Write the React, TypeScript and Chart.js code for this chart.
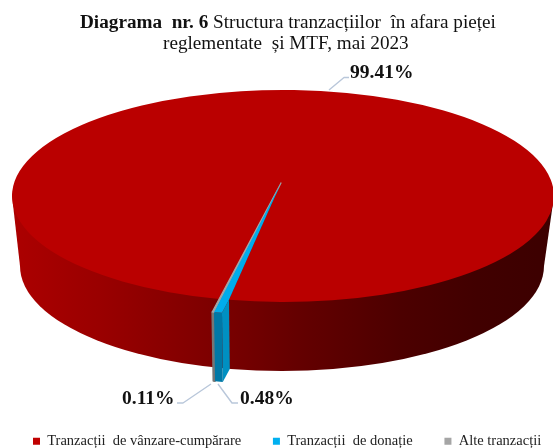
import React, { useEffect, useRef } from "react";
import { Chart, registerables } from "chart.js";

Chart.register(...registerables);

const categories = ["Tranzacții  de vânzare-cumpărare", "Tranzacții  de donație", "Alte tranzacții"];
const shares = [99.41, 0.48, 0.11];
const sliceColors = ["#C00000", "#00B0F0", "#A5A5A5"];
const titleBold = "Diagrama  nr. 6";
const titleRest = " Structura tranzacțiilor  în afara pieței";
const titleLine2 = "reglementate  și MTF, mai 2023";

const SERIF = '"Liberation Serif", "Times New Roman", serif';
const TOP = { cx: 283, cy: 196, rx: 271, ry: 106 };
const BOTTOM = { cx: 282, cy: 266, rx: 262, ry: 105 };
const APEX = { x: 281, y: 183 };
const PULL = { x: -7, y: 13 };
const LEADER = "#B9C7DA";
const LEGEND_GAP = "       ";

type Pt = { x: number; y: number };
type Ell = typeof TOP;
const at = (e: Ell, t: number, off: Pt = { x: 0, y: 0 }): Pt => ({
  x: e.cx + e.rx * Math.cos(t) + off.x,
  y: e.cy + e.ry * Math.sin(t) + off.y,
});
const poly = (ctx: CanvasRenderingContext2D, pts: Pt[], fill: string | CanvasGradient, edge = 0) => {
  ctx.beginPath();
  pts.forEach((p, i) => (i ? ctx.lineTo(p.x, p.y) : ctx.moveTo(p.x, p.y)));
  ctx.closePath();
  ctx.fillStyle = fill;
  ctx.fill();
  if (edge) {
    ctx.strokeStyle = fill as string;
    ctx.lineWidth = edge;
    ctx.lineJoin = "round";
    ctx.stroke();
  }
};

const pie3d = {
  id: "pie3d",
  beforeDatasetsDraw(chart: any) {
    const ctx: CanvasRenderingContext2D = chart.ctx;
    const arcs = chart.getDatasetMeta(0).data;
    const [main, blue, grey] = arcs;
    ctx.save();

    // side wall of the disc
    const g = ctx.createLinearGradient(12, 0, 553, 0);
    [[0, "#AC0000"], [0.16, "#9A0000"], [0.35, "#800000"], [0.53, "#640000"], [0.72, "#4C0000"], [0.86, "#410000"], [1, "#3C0000"]].forEach(
      ([o, c]) => g.addColorStop(o as number, c as string)
    );
    ctx.beginPath();
    ctx.ellipse(BOTTOM.cx, BOTTOM.cy, BOTTOM.rx, BOTTOM.ry, 0, 0, Math.PI * 2);
    ctx.fillStyle = g;
    ctx.fill();
    poly(ctx, [
      { x: TOP.cx - TOP.rx, y: TOP.cy },
      { x: BOTTOM.cx - BOTTOM.rx, y: BOTTOM.cy },
      { x: BOTTOM.cx + BOTTOM.rx, y: BOTTOM.cy },
      { x: TOP.cx + TOP.rx, y: TOP.cy },
    ], g);

    // top of the large slice
    ctx.beginPath();
    ctx.moveTo(APEX.x, APEX.y);
    ctx.ellipse(TOP.cx, TOP.cy, TOP.rx, TOP.ry, 0, main.startAngle, main.endAngle);
    ctx.closePath();
    ctx.fillStyle = "#BA0000";
    ctx.fill();

    const t1 = blue.startAngle;
    const t2 = blue.endAngle;
    const t3 = grey.endAngle;

    // pulled-out slices: grey first (its edge widens to the left), then blue over it
    poly(ctx, [at(TOP, t2, PULL), at(TOP, t3, PULL), at(BOTTOM, t3, PULL), at(BOTTOM, t2, PULL)], "#767676", 1.6);
    poly(ctx, [APEX, at(TOP, t2, PULL), at(TOP, t3, PULL)], "#A5A5A5", 1.2);
    poly(ctx, [at(TOP, t1, PULL), at(TOP, t1), at(BOTTOM, t1), at(BOTTOM, t1, PULL)], "#0090C2");
    poly(ctx, [at(TOP, t1, PULL), at(TOP, t2, PULL), at(BOTTOM, t2, PULL), at(BOTTOM, t1, PULL)], "#0078A6");
    poly(ctx, [APEX, at(TOP, t1), at(TOP, t1, PULL), at(TOP, t2, PULL)], "#00ACEC");

    // leader lines
    ctx.strokeStyle = LEADER;
    ctx.lineWidth = 1.4;
    const leaders: Pt[][] = [
      [{ x: 329, y: 90 }, { x: 344, y: 77.5 }, { x: 349, y: 77.5 }],
      [{ x: 211, y: 384 }, { x: 183, y: 403 }, { x: 177, y: 403 }],
      [{ x: 218, y: 384 }, { x: 232, y: 403 }, { x: 238, y: 403 }],
    ];
    leaders.forEach((l) => {
      ctx.beginPath();
      l.forEach((p, i) => (i ? ctx.lineTo(p.x, p.y) : ctx.moveTo(p.x, p.y)));
      ctx.stroke();
    });

    // value labels
    ctx.fillStyle = "#111";
    ctx.font = `bold 19.5px ${SERIF}`;
    ctx.textBaseline = "alphabetic";
    ctx.textAlign = "left";
    ctx.fillText(`${shares[0].toFixed(2)}%`, 350, 78);
    ctx.fillText(`${shares[2].toFixed(2)}%`, 122, 404);
    ctx.fillText(`${shares[1].toFixed(2)}%`, 240, 404);

    // title
    ctx.font = `bold 19.2px ${SERIF}`;
    const w1 = ctx.measureText(titleBold).width;
    ctx.fillText(titleBold, 80, 28);
    ctx.font = `19.2px ${SERIF}`;
    ctx.fillText(titleRest, 80 + w1, 28);
    ctx.fillText(titleLine2, 163, 49);

    ctx.restore();
    return false;
  },
};

export default function App() {
  const ref = useRef<HTMLCanvasElement>(null);
  useEffect(() => {
    document.body.style.margin = "0";
    const chart = new Chart(ref.current!, {
      type: "pie",
      data: {
        labels: categories,
        datasets: [{ data: shares, backgroundColor: sliceColors, borderWidth: 0 }],
      },
      options: {
        responsive: false,
        animation: false,
        rotation: 193.62,
        layout: { padding: { left: 26.6, right: 0, top: 0, bottom: -10.5 } },
        plugins: {
          tooltip: { enabled: false },
          title: { display: false },
          legend: {
            position: "bottom",
            align: "start",
            labels: {
              boxWidth: 7,
              boxHeight: 7,
              padding: 6.4,
              color: "#222",
              font: { family: SERIF, size: 14.5 },
              generateLabels(c: any) {
                return Chart.overrides.pie.plugins.legend.labels
                  .generateLabels(c)
                  .map((item: any, i: number) => ({
                    ...item,
                    text: i < categories.length - 1 ? item.text + LEGEND_GAP : item.text,
                  }));
              },
            },
          },
        },
      },
      plugins: [pie3d],
    } as any);
    return () => chart.destroy();
  }, []);
  return (
    <div style={{ position: "fixed", left: 0, top: 0, width: 553, height: 448, background: "#fff" }}>
      <canvas ref={ref} width={553} height={448} style={{ display: "block", filter: "blur(0.4px)" }} />
    </div>
  );
}
